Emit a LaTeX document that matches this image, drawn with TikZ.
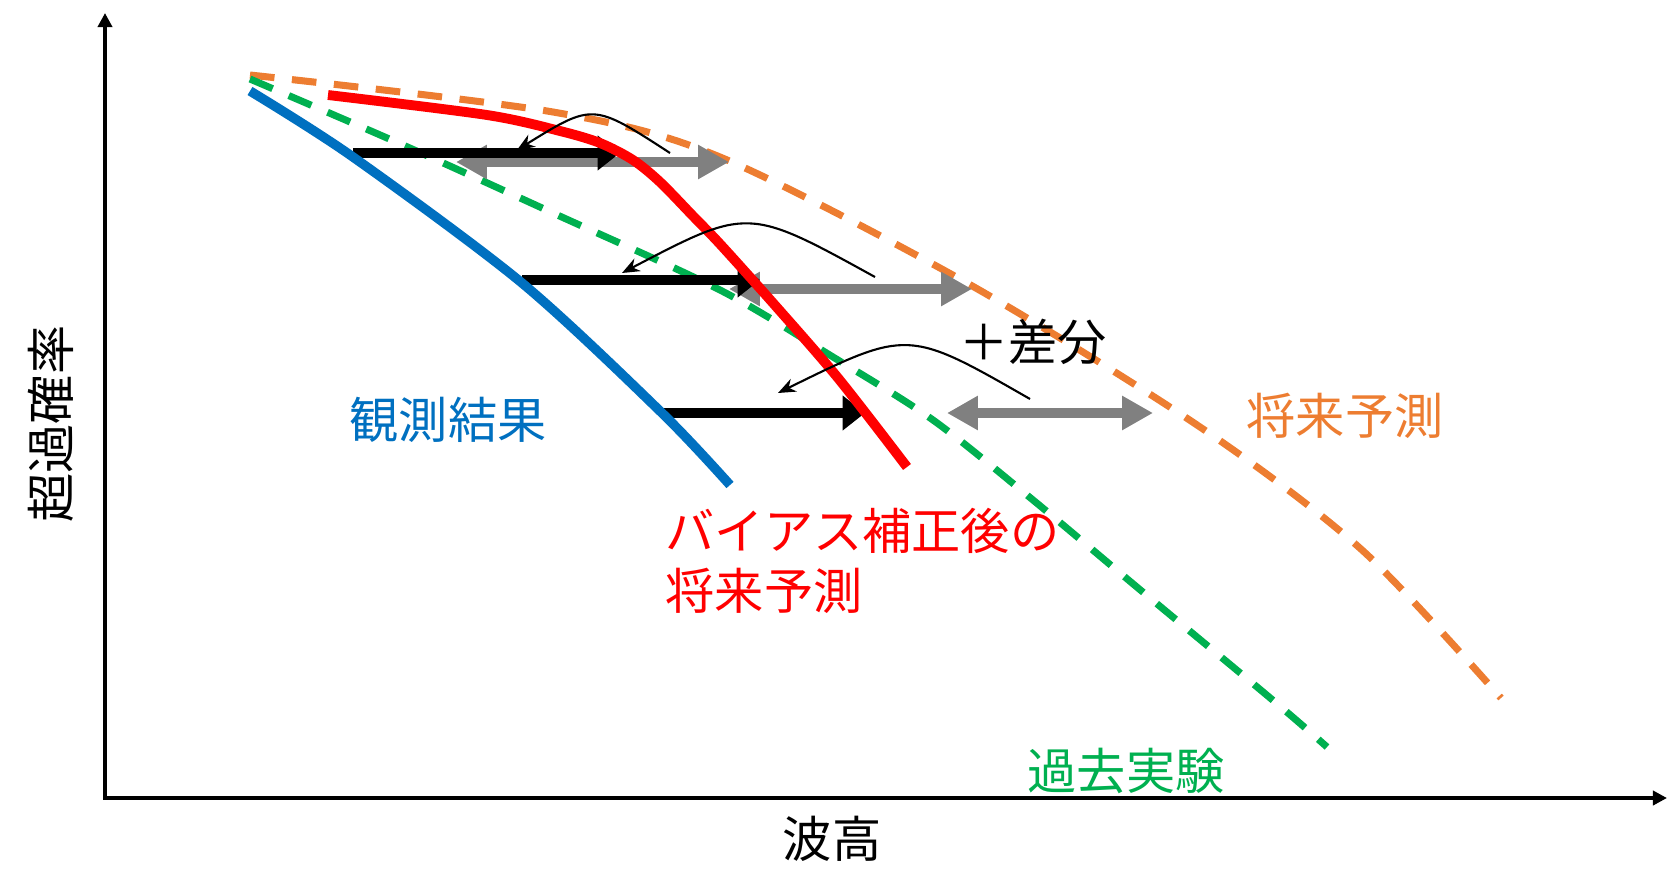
\documentclass[tikz,border=0pt]{standalone}
\usepackage{fontspec}
\setmainfont{Noto Sans CJK JP}
\usetikzlibrary{arrows.meta}
\definecolor{ObsBlue}{HTML}{0070C0}
\definecolor{FutOrange}{HTML}{ED7D31}
\definecolor{PastGreen}{HTML}{00B050}
\definecolor{DiffGray}{HTML}{808080}

\begin{document}
\begin{tikzpicture}[
    curve/.style={line width=2.7pt},
    dashcurve/.style={line width=2pt, dash pattern=on 7pt off 5pt},
    shiftarrow/.style={line width=2.7pt, -{Triangle[length=6.4pt,width=9.6pt]}},
    diffarrow/.style={color=DiffGray, line width=2.7pt,
        {Triangle[length=8.8pt,width=9.2pt]}-{Triangle[length=8.8pt,width=9.2pt]}},
    bendarrow/.style={line width=0.6pt, -{Stealth[length=5pt,width=4pt]}},
    txt/.style={inner sep=0pt, font=\fontsize{14}{17}\selectfont}
]
    \useasboundingbox (-1.05,-0.93) rectangle (15.75,7.98);
    % axes
    \coordinate (Origin) at (0,0);
    \coordinate (XEnd) at (15.62,0);
    \coordinate (YEnd) at (0,7.85);
    \draw[line width=1.2pt, {Triangle[length=4pt,width=4pt]}-{Triangle[length=4pt,width=4pt]}]
        (YEnd) -- (Origin) -- (XEnd);
    \node[txt] (XLabel) at (7.27,-0.41) {波高};
    \node[txt, rotate=90] (YLabel) at (-0.54,3.74) {超過確率};

    % future (orange) and past (green) experiments
    \draw[dashcurve, FutOrange] plot[smooth] coordinates {(1.45,7.23) (4.48,6.86) (6.15,6.41)
        (8.62,5.15) (10.95,3.71) (12.57,2.48) (13.96,1.00)};
    \draw[dashcurve, PastGreen] plot[smooth] coordinates {(1.45,7.19) (2.98,6.53) (4.48,5.85)
        (6.15,5.08) (7.28,4.41) (8.28,3.78) (9.28,2.98) (10.33,2.10) (11.70,0.96) (12.22,0.51)};

    % differences past -> future
    \coordinate (past1) at (3.51,6.36);
    \coordinate (fut1) at (6.24,6.36);
    \coordinate (past2) at (6.24,5.09);
    \coordinate (fut2) at (8.67,5.09);
    \coordinate (past3) at (8.42,3.85);
    \coordinate (fut3) at (10.48,3.85);
    \foreach \i in {1,2,3}
        \draw[diffarrow] (past\i) -- (fut\i);

    % observation -> corrected
    \coordinate (obs1) at (2.48,6.45);
    \coordinate (cor1) at (5.15,6.45);
    \coordinate (obs2) at (4.17,5.18);
    \coordinate (cor2) at (6.55,5.18);
    \coordinate (obs3) at (5.57,3.85);
    \coordinate (cor3) at (7.60,3.85);
    \foreach \i in {1,2,3}
        \draw[shiftarrow] (obs\i) -- (cor\i);

    \draw[curve, ObsBlue] plot[smooth] coordinates {(1.45,7.07) (2.48,6.41) (4.17,5.15)
        (5.57,3.85) (6.25,3.13)};
    \draw[curve, red, line width=2.8pt] plot[smooth] coordinates {(2.23,7.03) (3.82,6.83)
        (4.55,6.67) (4.95,6.55) (5.28,6.38) (5.55,6.16) (5.88,5.82) (6.15,5.54) (6.68,4.95)
        (7.33,4.20) (8.02,3.31)};

    % adding the difference
    \coordinate (from1) at (5.65,6.45);
    \coordinate (to1) at (4.12,6.48);
    \coordinate (from2) at (7.70,5.21);
    \coordinate (to2) at (5.17,5.25);
    \coordinate (from3) at (9.25,3.99);
    \coordinate (to3) at (6.73,4.05);
    \draw[bendarrow] (from1) .. controls (4.88,6.95) .. (to1);
    \draw[bendarrow] (from2) .. controls (6.43,5.91) .. (to2);
    \draw[bendarrow] (from3) .. controls (8.03,4.69) .. (to3);
    \node[txt] (Diff) at (9.28,4.56) {＋差分};

    % legends
    \node[txt, ObsBlue] (ObsLabel) at (3.43,3.78) {観測結果};
    \node[txt, red, anchor=west, align=left] (CorLabel) at (5.60,2.37) {バイアス補正後の\\将来予測};
    \node[txt, FutOrange] (FutLabel) at (12.40,3.82) {将来予測};
    \node[txt, PastGreen] (PastLabel) at (10.21,0.27) {過去実験};
\end{tikzpicture}
\end{document}
